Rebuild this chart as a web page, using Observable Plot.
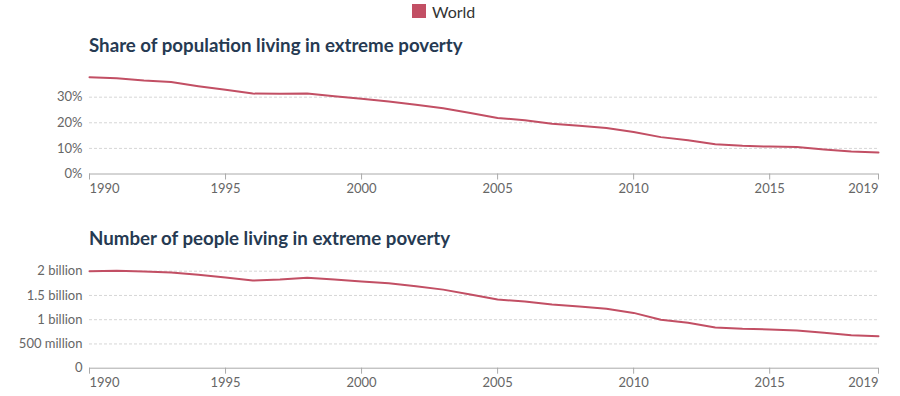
<!DOCTYPE html>
<html>
<head>
<meta charset="utf-8">
<script src="https://cdn.jsdelivr.net/npm/d3@7"></script>
<script src="https://cdn.jsdelivr.net/npm/@observablehq/plot@0.6"></script>
<style>
  html, body { margin: 0; padding: 0; background: #fff; }
  body { width: 900px; height: 396px; position: relative; font-family: Lato, "Noto Sans", sans-serif; }
  .abs { position: absolute; }
  .legend { top: 3px; left: 412px; height: 16px; display: flex; align-items: center; font-size: 16px; color: #333; }
  .swatch { width: 14px; height: 14px; margin-right: 6px; }
  .title { left: 89px; font-size: 18.7px; font-weight: 700; line-height: 18px; color: #263a52; white-space: nowrap; }
  .panel { left: 0; width: 900px; }
  .panel svg { display: block; }
</style>
</head>
<body>
<div class="abs legend" id="legend"></div>
<div class="abs title" id="t1" style="top:36px"></div>
<div class="abs title" id="t2" style="top:229px"></div>
<div id="p1" class="abs panel" style="top:60px;height:140px"></div>
<div id="p2" class="abs panel" style="top:252px;height:144px"></div>
<div id="err" class="abs" style="top:100px;left:100px;color:red;font-size:12px"></div>
<script>
// ---- data ----
const seriesName = "World";
const seriesColor = "#c24f64";
const titles = ["Share of population living in extreme poverty", "Number of people living in extreme poverty"];
const years = [1990,1991,1992,1993,1994,1995,1996,1997,1998,1999,2000,2001,2002,2003,2004,2005,2006,2007,2008,2009,2010,2011,2012,2013,2014,2015,2016,2017,2018,2019];
const sharePct = [37.8,37.4,36.5,35.9,34.3,32.9,31.4,31.3,31.4,30.4,29.4,28.3,27.0,25.7,23.8,21.9,21.0,19.6,18.8,18.0,16.4,14.4,13.2,11.6,11.0,10.7,10.5,9.6,8.8,8.4];
const peopleCount = [2.000e9,2.008e9,1.994e9,1.973e9,1.926e9,1.870e9,1.808e9,1.829e9,1.864e9,1.829e9,1.785e9,1.750e9,1.690e9,1.620e9,1.520e9,1.416e9,1.375e9,1.313e9,1.270e9,1.225e9,1.140e9,0.997e9,0.936e9,0.839e9,0.812e9,0.798e9,0.777e9,0.730e9,0.680e9,0.660e9];
const xTicks = [1990,1995,2000,2005,2010,2015,2019];
const shareTicks = [0,10,20,30];
const shareTickLabels = ["0%","10%","20%","30%"];
const peopleTicks = [0,0.5e9,1e9,1.5e9,2e9];
const peopleTickLabels = ["0","500 million","1 billion","1.5 billion","2 billion"];

// ---- text ----
document.getElementById("legend").innerHTML = `<div class="swatch" style="background:${seriesColor}"></div><span>${seriesName}</span>`;
document.getElementById("t1").textContent = titles[0];
document.getElementById("t2").textContent = titles[1];

const rowsShare = years.map((y, i) => ({year: y, value: sharePct[i]}));
const rowsPeople = years.map((y, i) => ({year: y, value: peopleCount[i]}));

function panel(rows, yTicks, yLabels, yDomain, height, marginTop, marginBottom) {
  const fmt = d => yLabels[yTicks.indexOf(d)];
  const axisStyle = {fontSize: 13, tickSize: 6, tickPadding: 4, stroke: "#aaa", fill: "#666", label: null, tickFormat: d => String(d)};
  return Plot.plot({
    width: 900,
    height,
    marginLeft: 89,
    marginRight: 22,
    marginTop,
    marginBottom,
    style: {fontFamily: "Lato, sans-serif", fontSize: "13px", color: "#666", background: "#fff"},
    x: {domain: [years[0], years[years.length - 1]], label: null},
    y: {domain: yDomain, label: null},
    marks: [
      Plot.gridY(yTicks.filter(d => d !== 0), {stroke: "#d6d6d6", strokeOpacity: 1, strokeDasharray: "3,2"}),
      Plot.axisY({ticks: yTicks, tickFormat: fmt, tickSize: 0, tickPadding: 7, fontSize: 13, fill: "#666", label: null}),
      Plot.ruleY([0], {stroke: "#aaa"}),
      Plot.axisX({...axisStyle, ticks: [xTicks[0]], textAnchor: "start"}),
      Plot.axisX({...axisStyle, ticks: xTicks.slice(1, -1)}),
      Plot.axisX({...axisStyle, ticks: [xTicks[xTicks.length - 1]], textAnchor: "end"}),
      Plot.line(rows, {x: "year", y: "value", stroke: seriesColor, strokeWidth: 2})
    ]
  });
}

try {
  document.getElementById("p1").append(panel(rowsShare, shareTicks, shareTickLabels, [0, 38], 140, 16.2, 26.5));
  document.getElementById("p2").append(panel(rowsPeople, peopleTicks, peopleTickLabels, [0, 2.01e9], 144, 18.2, 28.3));
} catch (e) {
  document.getElementById("err").textContent = String(e);
}
</script>
</body>
</html>
